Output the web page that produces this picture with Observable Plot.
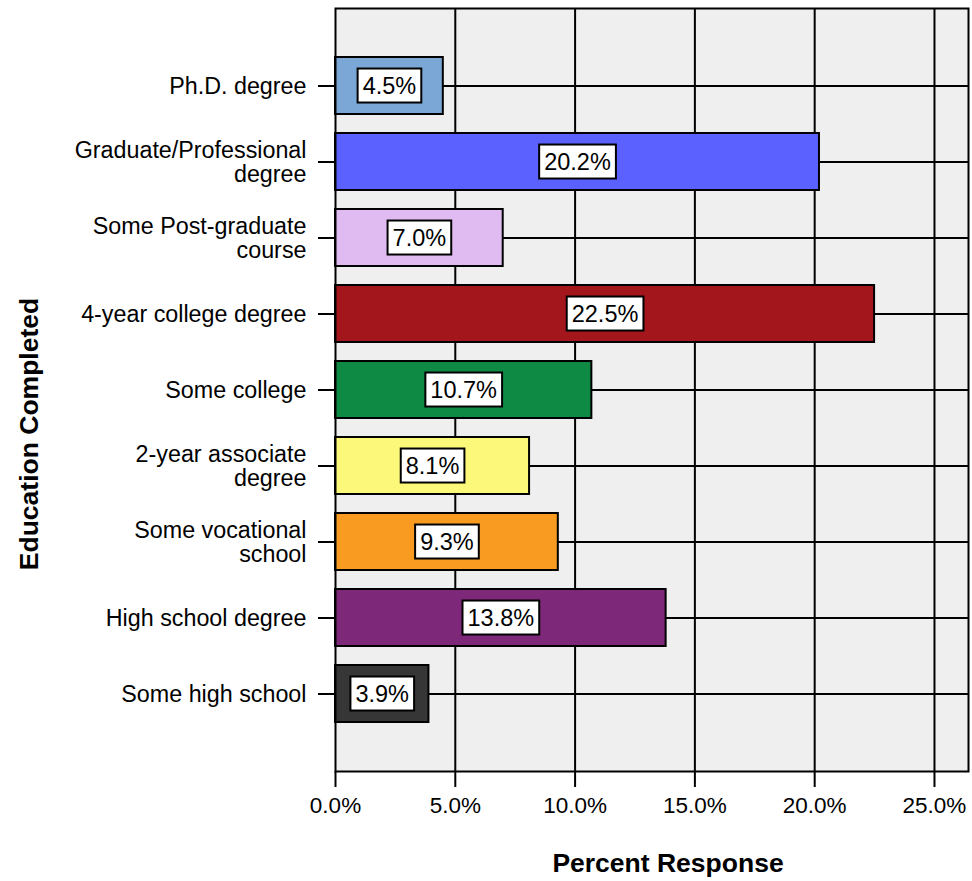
<!DOCTYPE html>
<html>
<head>
<meta charset="utf-8">
<script src="https://cdn.jsdelivr.net/npm/d3@7"></script>
<script src="https://cdn.jsdelivr.net/npm/@observablehq/plot@0.6"></script>
<style>
  html, body { margin: 0; padding: 0; background: #fff; }
  #chart svg { display: block; }
</style>
</head>
<body>
<div id="chart"></div>
<script>
const categories = [
  "Ph.D. degree",
  "Graduate/Professional\ndegree",
  "Some Post-graduate\ncourse",
  "4-year college degree",
  "Some college",
  "2-year associate\ndegree",
  "Some vocational\nschool",
  "High school degree",
  "Some high school"
];
const values = [4.5, 20.2, 7.0, 22.5, 10.7, 8.1, 9.3, 13.8, 3.9];
const colors = ["#7BA7D6", "#5B61FF", "#E0BBF2", "#A3171C", "#0F8A45", "#FBF87A", "#F89B20", "#7E2879", "#363636"];
const xTicks = [0, 5, 10, 15, 20, 25];
const xTitle = "Percent Response";
const yTitle = "Education Completed";

const data = categories.map((c, i) => ({cat: c, value: values[i], color: colors[i]}));
const fmt = d => d.toFixed(1) + "%";

const plot = Plot.plot({
  width: 972,
  height: 881,
  marginTop: 8,
  marginRight: 4,
  marginBottom: 110,
  marginLeft: 335,
  style: {fontFamily: "'Liberation Sans', Arial, sans-serif", fontSize: "22.5px", color: "#000", background: "#fff", overflow: "visible"},
  x: {domain: [0, 26.42]},
  y: {domain: categories, paddingInner: 0.25, paddingOuter: 0.625},
  color: {type: "identity"},
  marks: [
    Plot.frame({fill: "#EFEFEF"}),
    Plot.gridX(xTicks.filter(d => d > 0), {stroke: "#000", strokeOpacity: 1, strokeWidth: 2}),
    Plot.gridY(categories, {stroke: "#000", strokeOpacity: 1, strokeWidth: 2}),
    Plot.barX(data, {x: "value", y: "cat", fill: "color", stroke: "#000", strokeWidth: 2}),
    Plot.text(data, {x: d => d.value / 2, y: "cat", text: d => fmt(d.value), fill: "#000", fontSize: 23.5}),
    Plot.frame({stroke: "#000", strokeWidth: 2}),
    Plot.axisX(xTicks, {tickSize: 16, tickPadding: 10, tickFormat: fmt, label: null, stroke: "#000", strokeWidth: 2, fill: "#000", fontSize: 22.5}),
    Plot.axisY({tickSize: 17, tickPadding: 12, label: null, stroke: "#000", strokeWidth: 2, fill: "#000", fontSize: 23.3, lineHeight: 1.02}),
    Plot.text([xTitle], {frameAnchor: "bottom", dx: 16, dy: 92, lineAnchor: "middle", text: d => d, fontWeight: "bold", fontSize: 26.5, fill: "#000"}),
    Plot.text([yTitle], {frameAnchor: "left", dx: -306, dy: 44, rotate: -90, lineAnchor: "middle", textAnchor: "middle", text: d => d, fontWeight: "bold", fontSize: 26.5, fill: "#000"})
  ]
});

document.getElementById("chart").appendChild(plot);

// draw white boxes behind the value labels
const labelGroup = plot.querySelectorAll('g[aria-label="text"]')[0];
if (labelGroup) {
  const ns = "http://www.w3.org/2000/svg";
  labelGroup.querySelectorAll("text").forEach(t => {
    const b = t.getBBox();
    const ctm = t.getAttribute("transform");
    const r = document.createElementNS(ns, "rect");
    const cy = b.y + b.height / 2;
    r.setAttribute("x", b.x - 5);
    r.setAttribute("width", b.width + 10);
    r.setAttribute("y", cy - 17);
    r.setAttribute("height", 34);
    r.setAttribute("fill", "#fff");
    r.setAttribute("stroke", "#000");
    r.setAttribute("stroke-width", 2);
    if (ctm) r.setAttribute("transform", ctm);
    t.parentNode.insertBefore(r, t);
  });
}
</script>
</body>
</html>
